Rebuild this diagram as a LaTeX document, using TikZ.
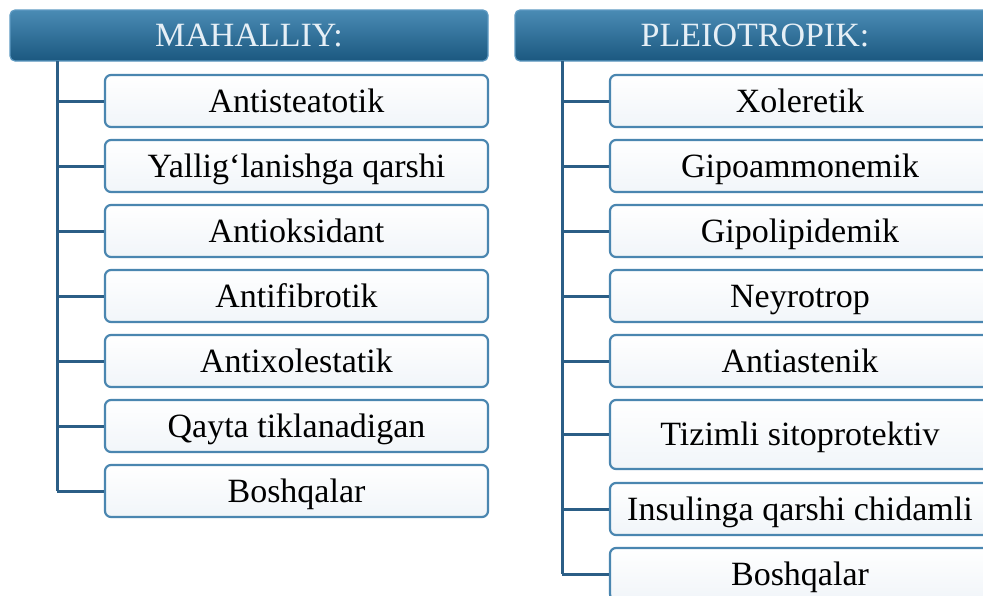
\documentclass[tikz,border=0pt]{standalone}
\usepackage{fontspec}
\setmainfont{Liberation Serif}
\definecolor{headtop}{HTML}{4A8BB4}
\definecolor{headbot}{HTML}{1B5880}
\definecolor{headedge}{HTML}{5E9AC2}
\definecolor{headtext}{HTML}{E6EFF6}
\definecolor{itemedge}{HTML}{4A86B0}
\definecolor{itembot}{HTML}{F1F5F9}
\definecolor{linkc}{HTML}{2B5E86}
\tikzset{
  head/.style={draw=headedge, line width=1.2pt, rounded corners=5pt,
    top color=headtop, bottom color=headbot, text=headtext,
    minimum width=478pt, minimum height=51pt, inner sep=0pt,
    text height=22pt, text depth=0pt, font=\fontsize{34}{37}\selectfont},
  item/.style={draw=itemedge, line width=2.2pt, rounded corners=6pt,
    top color=white, bottom color=itembot, text=black,
    minimum width=383pt, minimum height=52pt, inner sep=0pt,
    text height=22.5pt, text depth=0pt, font=\fontsize{34}{37}\selectfont},
  link/.style={draw=linkc, line width=3pt}
}
\begin{document}
\begin{tikzpicture}[x=1pt,y=-1pt]
\useasboundingbox (0,0) rectangle (983,595);
\clip (0,0) rectangle (983,595);
\fill[white] (0,0) rectangle (983,595);
% left column
\node[head] (hL) at (249,35.5) {MAHALLIY:};
\coordinate (lt) at (57,61);
\node[item] (l1) at (296.5,101) {Antisteatotik};
\node[item] (l2) at (296.5,166) {Yallig‘lanishga qarshi};
\node[item] (l3) at (296.5,231) {Antioksidant};
\node[item] (l4) at (296.5,296) {Antifibrotik};
\node[item] (l5) at (296.5,361) {Antixolestatik};
\node[item] (l6) at (296.5,426) {Qayta tiklanadigan};
\node[item] (l7) at (296.5,491) {Boshqalar};
\draw[link] (lt) -- (l7.west -| lt);
\foreach \i in {1,...,7} \draw[link] (l\i.west -| lt) -- (l\i.west);
% right column
\node[head, minimum width=480pt] (hR) at (755,35.5) {PLEIOTROPIK:};
\coordinate (rt) at (562,61);
\node[item, minimum width=380pt] (r1) at (800,101) {Xoleretik};
\node[item, minimum width=380pt] (r2) at (800,166) {Gipoammonemik};
\node[item, minimum width=380pt] (r3) at (800,231) {Gipolipidemik};
\node[item, minimum width=380pt] (r4) at (800,296) {Neyrotrop};
\node[item, minimum width=380pt] (r5) at (800,361) {Antiastenik};
\node[item, minimum width=380pt, minimum height=69pt] (r6) at (800,434.5) {Tizimli sitoprotektiv};
\node[item, minimum width=380pt] (r7) at (800,509) {Insulinga qarshi chidamli};
\node[item, minimum width=380pt] (r8) at (800,574) {Boshqalar};
\draw[link] (rt) -- (r8.west -| rt);
\foreach \i in {1,...,8} \draw[link] (r\i.west -| rt) -- (r\i.west);
\end{tikzpicture}
\end{document}
